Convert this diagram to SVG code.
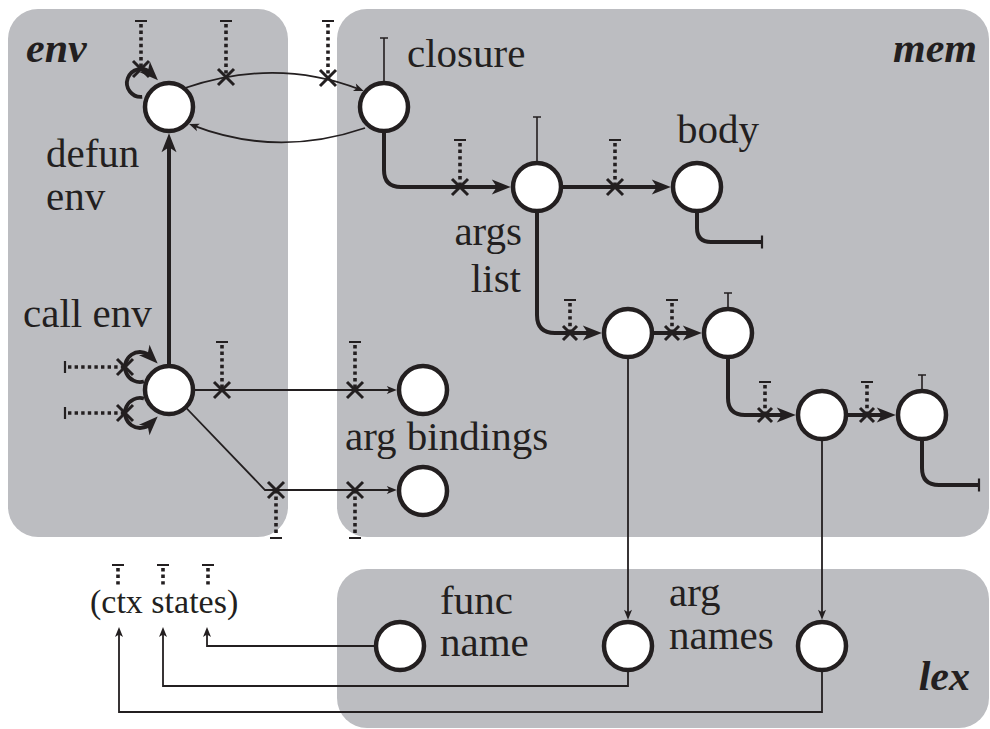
<svg xmlns="http://www.w3.org/2000/svg" xmlns:xlink="http://www.w3.org/1999/xlink" width="990" height="729" viewBox="0 0 990 729">
  <style>
    .panel { fill: #bcbdc1; }
    .node { fill: #ffffff; stroke: #231f20; stroke-width: 4.5; }
    .lbl { font-family: "Liberation Serif", "Times New Roman", serif; font-size: 41px; fill: #231f20; }
    .small { font-size: 34px; }
    .title { font-family: "Liberation Serif", "Times New Roman", serif; font-size: 42px; font-weight: bold; font-style: italic; fill: #231f20; }
    .thick { fill: none; stroke: #231f20; stroke-width: 4; }
    .thin { fill: none; stroke: #231f20; stroke-width: 1.8; }
    .loop { fill: none; stroke: #231f20; stroke-width: 3.8; }
    .dot { fill: none; stroke: #231f20; stroke-width: 3.6; stroke-dasharray: 3.4 3.2; }
    .bar { fill: none; stroke: #231f20; stroke-width: 2.2; }
    .tee { fill: none; stroke: #231f20; stroke-width: 1.6; }
    .cross { fill: none; stroke: #231f20; stroke-width: 3; }
  </style>
  <defs>
    <marker id="big" viewBox="-20 -8 21 16" markerWidth="21" markerHeight="16" refX="-10" refY="0" orient="auto" markerUnits="userSpaceOnUse">
      <path d="M0,0 L-19,-7.5 L-14,0 L-19,7.5 Z" fill="#231f20"/>
    </marker>
    <marker id="small" viewBox="-11 -5 12 10" markerWidth="12" markerHeight="10" refX="-4" refY="0" orient="auto" markerUnits="userSpaceOnUse">
      <path d="M0,0 L-10,-4 L-7.5,0 L-10,4 Z" fill="#231f20"/>
    </marker>
  </defs>

  <!-- panels -->
  <g id="panels">
    <rect id="panel-env" class="panel" x="8" y="9" width="280" height="528" rx="30"/>
    <rect id="panel-mem" class="panel" x="337" y="9" width="652" height="528" rx="30"/>
    <rect id="panel-lex" class="panel" x="337" y="569" width="652" height="159" rx="30"/>
    <text class="title" x="26" y="62">env</text>
    <text class="title" x="977" y="62" text-anchor="end">mem</text>
    <text class="title" x="970" y="690" text-anchor="end">lex</text>
  </g>

  <!-- connectors -->
  <g id="connectors">
    <!-- env: defun env <-> closure -->
    <path class="thin" d="M185,88 Q276,57 360,89.5" marker-end="url(#small)"/>
    <path class="thin" d="M365,128 Q277,158 192.8,125.4" marker-end="url(#small)"/>
    <path class="loop" d="M142.2,96.9 A14,14 0 1 1 150.9,73.1" marker-end="url(#big)"/>
    <path class="thick" d="M169,390 L169,143.2" marker-end="url(#big)"/>

    <!-- env: call env loops -->
    <path class="loop" d="M143.9,381.5 A15,15 0 1 1 150.6,356.4" marker-end="url(#big)"/>
    <path class="loop" d="M143.9,398.5 A15,15 0 1 0 150.6,423.6" marker-end="url(#big)"/>

    <!-- env: arg bindings -->
    <path class="thin" d="M169,390 L392.8,390" marker-end="url(#small)"/>
    <path class="thin" d="M169,390 L265,490 L392.8,490" marker-end="url(#small)"/>

    <!-- mem: chain -->
    <path class="thick" d="M384,107 L384,170 Q384,187 401,187 L500.8,187" marker-end="url(#big)"/>
    <path class="thick" d="M537,187 L660.8,187" marker-end="url(#big)"/>
    <path class="thick" d="M697,187 L697,228 Q697,242 711,242 L762,242"/>
    <path class="bar" d="M762,235.5 L762,248.5"/>
    <path class="thick" d="M537,187 L537,315 Q537,333 555,333 L591.8,333" marker-end="url(#big)"/>
    <path class="thick" d="M628,333 L691.8,333" marker-end="url(#big)"/>
    <path class="thick" d="M728,333 L728,398 Q728,415 745,415 L785.8,415" marker-end="url(#big)"/>
    <path class="thick" d="M822,415 L885.8,415" marker-end="url(#big)"/>
    <path class="thick" d="M922,415 L922,468 Q922,485 939,485 L979,485"/>
    <path class="bar" d="M979,478.5 L979,491.5"/>

    <!-- open ends above nodes -->
    <path class="tee" d="M384,83 L384,38 M380,38 L388,38"/>
    <path class="tee" d="M537,163 L537,117 M533,117 L541,117"/>
    <path class="tee" d="M728,309 L728,293 M724,293 L732,293"/>
    <path class="tee" d="M922,391 L922,375 M918,375 L926,375"/>

    <!-- mem to lex -->
    <path class="thin" d="M628,333 L628,615.8" marker-end="url(#small)"/>
    <path class="thin" d="M822,415 L822,615.8" marker-end="url(#small)"/>

    <!-- lex to ctx states -->
    <path class="thin" d="M400,646 L207,646 L207,631" marker-end="url(#small)"/>
    <path class="thin" d="M628,646 L628,686 L163,686 L163,631" marker-end="url(#small)"/>
    <path class="thin" d="M822,646 L822,712 L119,712 L119,631" marker-end="url(#small)"/>

    <!-- dotted cut markers -->
    <path class="dot" d="M141,24 L141,69 M226,24 L226,77 M328,24 L328,78"/>
    <path class="bar" d="M135,21 L147,21 M220,21 L232,21 M322,21 L334,21"/>
    <path class="dot" d="M68,367 L125,367 M68,413 L125,413"/>
    <path class="bar" d="M65,361 L65,373 M65,407 L65,419"/>
    <path class="dot" d="M222,345 L222,390 M355,345 L355,390"/>
    <path class="bar" d="M216,342 L228,342 M349,342 L361,342"/>
    <path class="dot" d="M276,490 L276,535 M355,490 L355,535"/>
    <path class="bar" d="M270,538 L282,538 M349,538 L361,538"/>
    <path class="dot" d="M460,143 L460,187 M615,143 L615,187"/>
    <path class="bar" d="M454,140 L466,140 M609,140 L621,140"/>
    <path class="dot" d="M570,303 L570,333 M672,303 L672,333"/>
    <path class="bar" d="M564,300 L576,300 M666,300 L678,300"/>
    <path class="dot" d="M765,385 L765,415 M867,385 L867,415"/>
    <path class="bar" d="M759,382 L771,382 M861,382 L873,382"/>
    <path class="dot" d="M118,568 L118,587 M163,568 L163,587 M208,568 L208,587"/>
    <path class="bar" d="M112,565 L124,565 M157,565 L169,565 M202,565 L214,565"/>

    <!-- cut crosses -->
    <path class="cross" d="M133,61 l16,16 m0,-16 l-16,16
      M218,69 l16,16 m0,-16 l-16,16
      M320,70 l16,16 m0,-16 l-16,16
      M117,359 l16,16 m0,-16 l-16,16
      M117,405 l16,16 m0,-16 l-16,16
      M214,382 l16,16 m0,-16 l-16,16
      M347,382 l16,16 m0,-16 l-16,16
      M268,482 l16,16 m0,-16 l-16,16
      M347,482 l16,16 m0,-16 l-16,16
      M452,179 l16,16 m0,-16 l-16,16
      M607,179 l16,16 m0,-16 l-16,16
      M563,326 l14,14 m0,-14 l-14,14
      M665,326 l14,14 m0,-14 l-14,14
      M758,408 l14,14 m0,-14 l-14,14
      M860,408 l14,14 m0,-14 l-14,14"/>
  </g>

  <!-- nodes -->
  <g id="defun-env">
    <circle class="node" cx="169" cy="107" r="24"/>
    <text class="lbl" x="46" y="167">defun</text>
    <text class="lbl" x="46" y="210">env</text>
  </g>
  <g id="call-env">
    <circle class="node" cx="169" cy="390" r="24"/>
    <text class="lbl" x="23" y="327">call env</text>
  </g>
  <g id="arg-binding-1">
    <circle class="node" cx="423" cy="390" r="24"/>
    <text class="lbl" x="345" y="450">arg bindings</text>
  </g>
  <g id="arg-binding-2">
    <circle class="node" cx="423" cy="491" r="24"/>
  </g>
  <g id="closure">
    <circle class="node" cx="384" cy="107" r="24"/>
    <text class="lbl" x="407" y="67">closure</text>
  </g>
  <g id="args-list">
    <circle class="node" cx="537" cy="187" r="24"/>
    <text class="lbl" x="522" y="245" text-anchor="end">args</text>
    <text class="lbl" x="521" y="292" text-anchor="end">list</text>
  </g>
  <g id="body">
    <circle class="node" cx="697" cy="187" r="24"/>
    <text class="lbl" x="677" y="143">body</text>
  </g>
  <g id="cell-a">
    <circle class="node" cx="628" cy="333" r="24"/>
  </g>
  <g id="cell-b">
    <circle class="node" cx="728" cy="333" r="24"/>
  </g>
  <g id="cell-c">
    <circle class="node" cx="822" cy="415" r="24"/>
  </g>
  <g id="cell-d">
    <circle class="node" cx="922" cy="415" r="24"/>
  </g>
  <g id="func-name">
    <circle class="node" cx="400" cy="646" r="24"/>
    <text class="lbl" x="440" y="614">func</text>
    <text class="lbl" x="440" y="656">name</text>
  </g>
  <g id="arg-name-1">
    <circle class="node" cx="628" cy="646" r="24"/>
    <text class="lbl" x="669" y="606">arg</text>
    <text class="lbl" x="669" y="649">names</text>
  </g>
  <g id="arg-name-2">
    <circle class="node" cx="822" cy="646" r="24"/>
  </g>
  <g id="ctx-states">
    <text class="lbl small" x="90" y="613">(ctx states)</text>
  </g>
</svg>
